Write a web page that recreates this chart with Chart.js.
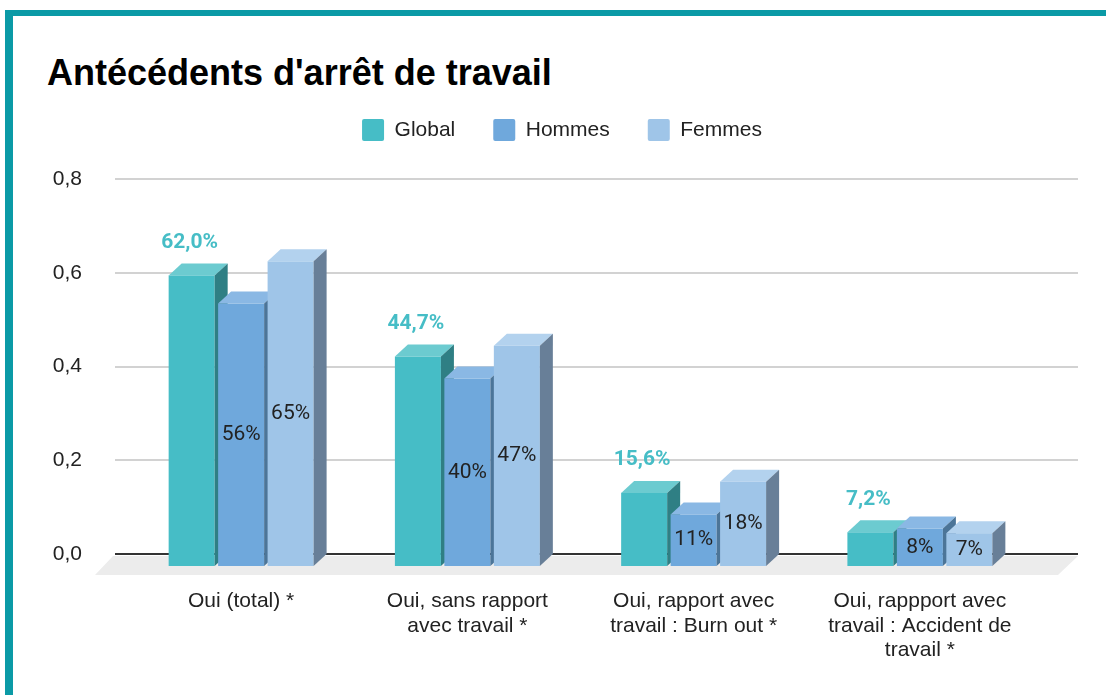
<!DOCTYPE html>
<html lang="fr">
<head>
<meta charset="utf-8">
<title>Antécédents d'arrêt de travail</title>
<script src="https://cdn.jsdelivr.net/npm/chart.js@4.4.1/dist/chart.umd.min.js"></script>
<style>
  html, body { margin: 0; padding: 0; background: #fff; overflow: hidden; }
  body { width: 1106px; height: 695px; position: relative; }
  #cadre {
    position: absolute; left: 5px; top: 10px; width: 1200px; height: 800px;
    border-left: 8px solid #0b9aa6; border-top: 6px solid #0b9aa6;
  }
  #titre {
    position: absolute; left: 47px; top: 55px; white-space: nowrap;
    font: bold 36px "Liberation Sans", Arial, sans-serif; line-height: 36px; color: #000;
  }
  #zone { position: absolute; left: 0; top: 0; width: 1106px; height: 695px; }
</style>
</head>
<body>
<div id="cadre"></div>
<div id="titre">Antécédents d'arrêt de travail</div>
<div id="zone"><canvas id="graphique"></canvas></div>
<script>
// Données
const categories = [
  ['Oui (total) *'],
  ['Oui, sans rapport', 'avec travail *'],
  ['Oui, rapport avec', 'travail : Burn out *'],
  ['Oui, rappport avec', 'travail : Accident de', 'travail *']
];
const series = ['Global', 'Hommes', 'Femmes'];
const valeursGlobal = [0.620, 0.447, 0.156, 0.072];
const valeursHommes = [0.56, 0.40, 0.11, 0.08];
const valeursFemmes = [0.65, 0.47, 0.18, 0.07];
const graduations = [0, 0.2, 0.4, 0.6, 0.8];

// Couleurs : face avant, dessus, côté
const couleurs = [
  { face: '#46bdc6', dessus: '#6ccbd0', cote: '#2f7f84' },
  { face: '#6fa8dc', dessus: '#8ab8e4', cote: '#4c7598' },
  { face: '#9fc5e8', dessus: '#b3d2ee', cote: '#687f98' }
];

const POLICE = "'Liberation Sans', Arial, sans-serif";
const PROF_X = 13;   // profondeur des barres
const PROF_Y = 12;

function enPourcent(v, dec) {
  return (v * 100).toFixed(dec).replace('.', ',') + '%';
}

// Sol, grille et barres en relief
const barres3d = {
  id: 'barres3d',
  beforeDatasetsDraw(chart) {
    const { ctx, chartArea: a, scales: { y } } = chart;
    const y0 = y.getPixelForValue(0);
    ctx.save();

    // sol gris
    ctx.fillStyle = '#ececec';
    ctx.beginPath();
    ctx.moveTo(a.left - 15, y0 + 2);
    ctx.lineTo(a.right + 45, y0 + 2);
    ctx.lineTo(a.right + 25, y0 + 21);
    ctx.lineTo(a.left - 33, y0 + 21);
    ctx.closePath();
    ctx.fill();

    // lignes de la grille
    graduations.forEach(v => {
      const py = Math.round(y.getPixelForValue(v));
      ctx.strokeStyle = v === 0 ? '#333333' : '#d2d2d2';
      ctx.lineWidth = 2;
      ctx.beginPath();
      ctx.moveTo(a.left - 13, py);
      ctx.lineTo(a.right + 45, py);
      ctx.stroke();
    });

    // barres, de gauche à droite
    const metas = series.map((s, i) => chart.getDatasetMeta(i));
    for (let c = 0; c < categories.length; c++) {
      metas.forEach((meta, s) => {
        const el = meta.data[c];
        const col = couleurs[s];
        const w = el.width;
        const x0 = el.x - w / 2, x1 = el.x + w / 2;
        const haut = el.y + PROF_Y, bas = el.base + PROF_Y;

        ctx.fillStyle = col.face;
        ctx.fillRect(x0, haut, w, bas - haut);

        ctx.fillStyle = col.dessus;
        ctx.beginPath();
        ctx.moveTo(x0, haut);
        ctx.lineTo(x0 + PROF_X, haut - PROF_Y);
        ctx.lineTo(x1 + PROF_X, haut - PROF_Y);
        ctx.lineTo(x1, haut);
        ctx.closePath();
        ctx.fill();

        ctx.fillStyle = col.cote;
        ctx.beginPath();
        ctx.moveTo(x1, haut);
        ctx.lineTo(x1 + PROF_X, haut - PROF_Y);
        ctx.lineTo(x1 + PROF_X, bas - PROF_Y);
        ctx.lineTo(x1, bas);
        ctx.closePath();
        ctx.fill();
      });
    }
    ctx.restore();
    return false;
  },
  afterDraw(chart) {
    const ctx = chart.ctx;
    ctx.save();
    ctx.textAlign = 'center';
    ctx.textBaseline = 'middle';

    // étiquettes "Global" au-dessus des barres
    ctx.font = 'bold 21px Roboto';
    ctx.fillStyle = '#46bdc6';
    chart.getDatasetMeta(0).data.forEach((el, i) => {
      ctx.fillText(enPourcent(valeursGlobal[i], 1), el.x - 2, el.y - 21);
    });

    // étiquettes Hommes / Femmes dans la face avant
    ctx.font = '21px Roboto';
    ctx.fillStyle = '#222222';
    [valeursHommes, valeursFemmes].forEach((vals, k) => {
      chart.getDatasetMeta(k + 1).data.forEach((el, i) => {
        ctx.fillText(enPourcent(vals[i], 0), el.x, (el.y + el.base) / 2 + PROF_Y);
      });
    });
    ctx.restore();
  }
};

// axe vide servant uniquement de marge
function axeVide(position, taille) {
  return {
    type: 'linear', position: position,
    grid: { display: false, drawTicks: false },
    border: { display: false },
    ticks: { display: false },
    afterFit(s) {
      if (position === 'top') s.height = taille; else s.width = taille;
    }
  };
}

function serie(i, valeurs) {
  return {
    label: series[i], data: valeurs, backgroundColor: couleurs[i].face,
    xAxisID: 'x', yAxisID: 'y'
  };
}

new Chart(document.getElementById('graphique'), {
  type: 'bar',
  data: {
    labels: categories,
    datasets: [
      serie(0, valeursGlobal),
      serie(1, valeursHommes),
      serie(2, valeursFemmes)
    ]
  },
  options: {
    responsive: true,
    maintainAspectRatio: false,
    animation: false,
    layout: { padding: { left: 51, right: 33, top: 81, bottom: 32.5 } },
    datasets: { bar: { categoryPercentage: 0.656, barPercentage: 0.93 } },
    scales: {
      x: {
        grid: { display: false, drawTicks: false },
        border: { display: false },
        ticks: {
          color: '#222222', padding: 35, maxRotation: 0, autoSkip: false,
          font: { family: POLICE, size: 21, lineHeight: 1.167 }
        },
        afterFit(s) { s.height = 108.5; }
      },
      y: {
        min: 0, max: 0.8,
        grid: { display: false, drawTicks: false },
        border: { display: false },
        ticks: {
          stepSize: 0.2, padding: 46, color: '#222222',
          font: { family: POLICE, size: 21 },
          callback: v => v.toFixed(1).replace('.', ',')
        },
        afterFit(s) { s.width = 77; }
      },
      margeHaut: axeVide('top', 28),
      margeDroite: axeVide('right', 40)
    },
    plugins: {
      legend: {
        position: 'top',
        labels: {
          boxWidth: 22, boxHeight: 22, padding: 38, color: '#222222',
          useBorderRadius: true, borderRadius: 2,
          font: { family: POLICE, size: 21 }
        }
      },
      tooltip: { enabled: false }
    }
  },
  plugins: [barres3d]
});
</script>
</body>
</html>
